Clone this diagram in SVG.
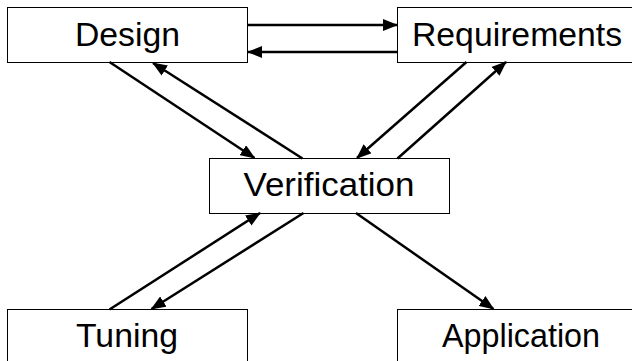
<svg xmlns="http://www.w3.org/2000/svg" width="632" height="361" viewBox="0 0 632 361">
  <style>
    .box { fill: #ffffff; stroke: #000000; stroke-width: 1; }
    .label { font-family: "Liberation Sans", Arial, sans-serif; font-size: 34px; fill: #000000; text-anchor: middle; }
    .edge { stroke: #000000; stroke-width: 2.5; fill: none; marker-end: url(#arrow); }
  </style>
  <defs>
    <marker id="arrow" markerUnits="userSpaceOnUse" markerWidth="15" markerHeight="12" refX="14" refY="6" orient="auto">
      <path d="M0,0 L15,6 L0,12 Z" fill="#000000"/>
    </marker>
  </defs>

  <rect width="632" height="361" fill="#ffffff"/>

  <g id="design">
    <rect class="box" x="7.5" y="7.5" width="240" height="55"/>
    <text class="label" x="127.5" y="46" textLength="105" lengthAdjust="spacingAndGlyphs">Design</text>
  </g>
  <g id="requirements">
    <rect class="box" x="397.5" y="7.5" width="240" height="55"/>
    <text class="label" x="517" y="46" textLength="210" lengthAdjust="spacingAndGlyphs">Requirements</text>
  </g>
  <g id="verification">
    <rect class="box" x="209.5" y="158.5" width="240" height="55"/>
    <text class="label" x="329" y="196" textLength="171" lengthAdjust="spacingAndGlyphs">Verification</text>
  </g>
  <g id="tuning">
    <rect class="box" x="7.5" y="309.5" width="240" height="55"/>
    <text class="label" x="127" y="347" textLength="102" lengthAdjust="spacingAndGlyphs">Tuning</text>
  </g>
  <g id="application">
    <rect class="box" x="397.5" y="309.5" width="240" height="55"/>
    <text class="label" x="521" y="347" textLength="158" lengthAdjust="spacingAndGlyphs">Application</text>
  </g>

  <g id="connectors">
    <line class="edge" x1="248" y1="25" x2="397" y2="25"/>
    <line class="edge" x1="397" y1="52" x2="248" y2="52"/>
    <line class="edge" x1="109.5" y1="62" x2="254.5" y2="158"/>
    <line class="edge" x1="302.5" y1="158.5" x2="153" y2="63"/>
    <line class="edge" x1="466.5" y1="62" x2="357" y2="158"/>
    <line class="edge" x1="397.5" y1="158.5" x2="506" y2="62"/>
    <line class="edge" x1="109.5" y1="309.5" x2="260" y2="213"/>
    <line class="edge" x1="303.5" y1="213" x2="151.5" y2="309"/>
    <line class="edge" x1="356" y1="213" x2="493.5" y2="309"/>
  </g>
</svg>
